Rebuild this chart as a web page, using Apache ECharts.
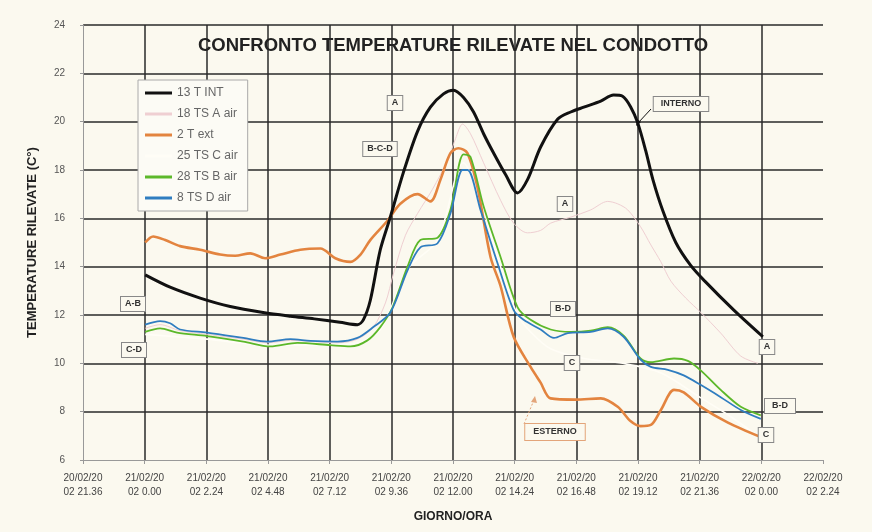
<!DOCTYPE html>
<html lang="it">
<head>
<meta charset="UTF-8">
<title>Confronto temperature rilevate nel condotto</title>
<script src="https://cdn.jsdelivr.net/npm/echarts@6/dist/echarts.min.js"></script>
<style>
  html, body { margin: 0; padding: 0; background: #fbf9ef; }
  #chart { width: 872px; height: 532px; }
</style>
</head>
<body>
<div id="chart"></div>
<script>
// ore trascorse da 20/02/2002 21.36
var tickLabels = [
  '20/02/20\n02 21.36', '21/02/20\n02 0.00', '21/02/20\n02 2.24', '21/02/20\n02 4.48',
  '21/02/20\n02 7.12', '21/02/20\n02 9.36', '21/02/20\n02 12.00', '21/02/20\n02 14.24',
  '21/02/20\n02 16.48', '21/02/20\n02 19.12', '21/02/20\n02 21.36', '22/02/20\n02 0.00',
  '22/02/20\n02 2.24'
];
var seriesNames = ['13 T INT', '18 TS A air', '2 T ext', '25 TS C air', '28 TS B air', '8 TS D air'];

var tInt = [
  [2.42, 13.66], [3.39, 13.15], [4.56, 12.7], [5.73, 12.35], [7.01, 12.1], [8.07, 11.95],
  [9.0, 11.84], [10.0, 11.7], [10.68, 11.6], [10.91, 11.8], [11.18, 12.6], [11.57, 14.7],
  [11.96, 16.05], [12.47, 17.9], [13.02, 19.6], [13.52, 20.6], [14.03, 21.15], [14.42, 21.3],
  [14.81, 21.0], [15.2, 20.4], [15.59, 19.5], [15.98, 18.7], [16.45, 17.8], [16.91, 17.05],
  [17.3, 17.6], [17.81, 18.95], [18.47, 20.1], [18.98, 20.4], [19.49, 20.6], [20.15, 20.85],
  [20.65, 21.1], [21.0, 21.05], [21.32, 20.6], [21.59, 19.95], [21.9, 18.8], [22.18, 17.6],
  [22.57, 16.3], [23.07, 15.0], [23.65, 14.05], [24.2, 13.4], [25.33, 12.2], [26.46, 11.1]
];
var tsA = [
  [2.42, 11.45], [3.0, 11.6], [3.78, 11.35], [4.83, 11.2], [6.24, 11.0], [7.17, 10.85],
  [8.07, 10.95], [9.9, 10.85], [10.68, 11.0], [11.3, 11.5], [11.77, 12.5], [12.08, 13.7],
  [12.55, 15.3], [13.02, 16.2], [13.6, 17.2], [14.19, 18.4], [14.5, 19.3], [14.77, 19.9],
  [15.08, 19.5], [15.59, 18.3], [16.25, 16.75], [16.76, 15.8], [17.3, 15.4], [17.81, 15.5],
  [18.2, 15.8], [18.98, 16.05], [19.76, 16.35], [20.42, 16.7], [20.81, 16.6], [21.2, 16.35],
  [21.7, 15.65], [22.1, 14.9], [22.49, 14.2], [22.88, 13.4], [23.46, 12.7], [24.05, 12.1],
  [24.82, 11.25], [25.6, 10.3], [26.27, 10.0]
];
var tExt = [
  [2.42, 15.0], [2.73, 15.25], [3.2, 15.1], [3.78, 14.85], [4.56, 14.7], [5.34, 14.5],
  [5.92, 14.45], [6.51, 14.55], [7.09, 14.35], [7.68, 14.5], [8.46, 14.7], [9.24, 14.75],
  [9.82, 14.35], [10.41, 14.2], [10.8, 14.5], [11.18, 15.1], [11.85, 15.9], [12.35, 16.6],
  [13.02, 17.0], [13.52, 16.7], [13.91, 17.6], [14.3, 18.7], [14.61, 18.9], [14.96, 18.7],
  [15.35, 17.3], [15.86, 14.4], [16.25, 13.2], [16.76, 11.1], [17.42, 9.85], [17.81, 9.2],
  [18.2, 8.55], [19.17, 8.5], [20.15, 8.55], [20.81, 8.2], [21.32, 7.6], [21.7, 7.4],
  [22.1, 7.45], [22.49, 8.07], [23.0, 8.9], [23.38, 8.8], [24.05, 8.2], [25.1, 7.55],
  [26.38, 6.95]
];
var tsC = [
  [2.42, 11.2], [4.83, 11.0], [7.29, 10.75], [10.41, 10.8], [11.57, 11.4], [12.63, 13.9],
  [13.8, 15.1], [14.8, 18.3], [15.59, 16.3], [16.25, 14.0], [16.91, 12.0], [17.42, 11.3],
  [18.2, 10.6], [19.5, 10.2], [21.0, 10.0], [22.5, 9.6], [24.0, 8.6], [25.2, 7.8], [26.38, 6.9]
];
var tsB = [
  [2.42, 11.3], [3.0, 11.45], [3.66, 11.27], [4.83, 11.13], [6.24, 10.9], [7.29, 10.7],
  [8.34, 10.85], [9.63, 10.75], [10.41, 10.7], [11.07, 10.95], [11.57, 11.5], [12.04, 12.3],
  [12.63, 14.0], [13.13, 15.1], [13.8, 15.2], [14.3, 16.35], [14.81, 18.65], [15.08, 18.55],
  [15.59, 16.5], [16.25, 14.4], [16.91, 12.33], [17.42, 11.8], [18.2, 11.4], [18.98, 11.3],
  [19.76, 11.35], [20.42, 11.5], [21.04, 11.15], [21.7, 10.2], [22.1, 10.05], [23.0, 10.2],
  [23.54, 10.1], [24.05, 9.7], [24.82, 8.9], [25.6, 8.2], [26.38, 7.85]
];
var tsD = [
  [2.42, 11.6], [3.0, 11.75], [3.39, 11.66], [3.78, 11.4], [4.83, 11.27], [6.24, 11.05],
  [7.17, 10.9], [8.07, 11.0], [8.85, 10.93], [9.9, 10.9], [10.68, 11.05], [11.3, 11.5],
  [11.96, 12.1], [12.63, 13.85], [13.13, 14.8], [13.8, 14.97], [14.3, 16.2], [14.77, 18.0],
  [14.97, 18.0], [15.47, 16.35], [16.13, 14.15], [16.76, 12.2], [17.15, 11.8], [17.81, 11.4],
  [18.33, 11.05], [18.87, 11.25], [19.76, 11.3], [20.42, 11.45], [21.04, 11.1], [21.7, 10.15],
  [22.1, 9.85], [22.76, 9.73], [23.38, 9.5], [24.05, 9.1], [24.82, 8.6], [25.6, 8.07],
  [26.38, 7.7]
];

var chart = echarts.init(document.getElementById('chart'));

function line(name, data, color, width, z) {
  return {
    name: name, type: 'line', data: data, smooth: 0.3, showSymbol: false, z: z,
    lineStyle: { color: color, width: width }, itemStyle: { color: color }
  };
}

function box(text, x, y, extra) {
  var s = {
    text: text, x: x, y: y, align: 'center', verticalAlign: 'middle',
    font: 'bold 9px "Liberation Sans"', fill: '#333',
    backgroundColor: '#fbf9ef', borderColor: '#888', borderWidth: 1, padding: [3, 4, 2, 4]
  };
  if (extra) { for (var k in extra) s[k] = extra[k]; }
  return { type: 'text', z: 100, style: s };
}

var option = {
  backgroundColor: '#fbf9ef',
  animation: false,
  textStyle: { fontFamily: '"Liberation Sans", Arial, sans-serif' },
  grid: { left: 83, right: 49, top: 25, bottom: 72 },
  legend: {
    data: seriesNames, orient: 'vertical', left: 138, top: 80,
    icon: 'rect', itemWidth: 27, itemHeight: 3, itemGap: 9, itemTextGap: 4,
    padding: [7, 10, 7, 7], backgroundColor: '#fcfbf5', borderColor: '#aaa', borderWidth: 1,
    textStyle: { fontSize: 12, color: '#666' }
  },
  xAxis: {
    type: 'value', min: 0, max: 28.8, interval: 2.4,
    name: 'GIORNO/ORA', nameLocation: 'middle', nameGap: 51,
    nameTextStyle: { fontSize: 12, fontWeight: 'bold', color: '#222' },
    axisLine: { lineStyle: { color: '#999' } },
    axisTick: { show: true, length: 4, lineStyle: { color: '#999' } },
    axisLabel: {
      fontSize: 10, color: '#444', lineHeight: 14, margin: 11,
      formatter: function (v) { return tickLabels[Math.round(v / 2.4)] || ''; }
    },
    splitLine: { show: true, showMinLine: false, showMaxLine: false, lineStyle: { color: '#2a2a2a', width: 1.5 } }
  },
  yAxis: {
    type: 'value', min: 6, max: 24, interval: 2,
    name: 'TEMPERATURE RILEVATE (C°)', nameLocation: 'middle', nameGap: 44, nameRotate: 90,
    nameTextStyle: { fontSize: 13, fontWeight: 'bold', color: '#222' },
    axisLine: { show: true, lineStyle: { color: '#999' } },
    axisTick: { show: true, length: 3, lineStyle: { color: '#999' } },
    axisLabel: { fontSize: 10, color: '#555', margin: 18 },
    splitLine: { show: true, showMinLine: false, lineStyle: { color: '#2a2a2a', width: 1.5 } }
  },
  graphic: [
    { type: 'text', z: 1, style: { text: 'CONFRONTO TEMPERATURE RILEVATE NEL CONDOTTO', x: 453, y: 46,
      align: 'center', verticalAlign: 'middle', font: 'bold 18.5px "Liberation Sans"', fill: '#222' } },
    box('A', 395, 103),
    box('B-C-D', 380, 149),
    box('INTERNO', 681, 104, { padding: [3, 7, 2, 7] }),
    box('A', 565, 204),
    box('B-D', 563, 309),
    box('C', 572, 363),
    box('A-B', 133, 304),
    box('C-D', 134, 350),
    box('ESTERNO', 555, 432, { borderColor: '#e3a57a', padding: [4, 8, 3, 8] }),
    box('A', 767, 347),
    box('B-D', 780, 406, { padding: [3, 7, 2, 7] }),
    box('C', 766, 435),
    { type: 'line', z: 99, shape: { x1: 651, y1: 109, x2: 638, y2: 123 }, style: { stroke: '#111', lineWidth: 1 } },
    { type: 'polygon', z: 99, shape: { points: [[636, 126], [637, 119], [641, 122]] }, style: { fill: '#111' } },
    { type: 'line', z: 99, shape: { x1: 524, y1: 424, x2: 534, y2: 400 }, style: { stroke: '#e3a57a', lineWidth: 1, lineDash: [2, 2] } },
    { type: 'polygon', z: 99, shape: { points: [[535, 396], [531, 402], [537, 403]] }, style: { fill: '#e3a57a' } }
  ],
  series: [
    line(seriesNames[3], tsC, '#fffdf6', 1.6, 2),
    line(seriesNames[1], tsA, '#efcfd2', 1, 3),
    line(seriesNames[2], tExt, '#e3843f', 2.6, 4),
    line(seriesNames[4], tsB, '#5cb82a', 1.8, 5),
    line(seriesNames[5], tsD, '#2f7dc0', 1.8, 6),
    line(seriesNames[0], tInt, '#111111', 3, 7)
  ]
};

chart.setOption(option);
</script>
</body>
</html>
